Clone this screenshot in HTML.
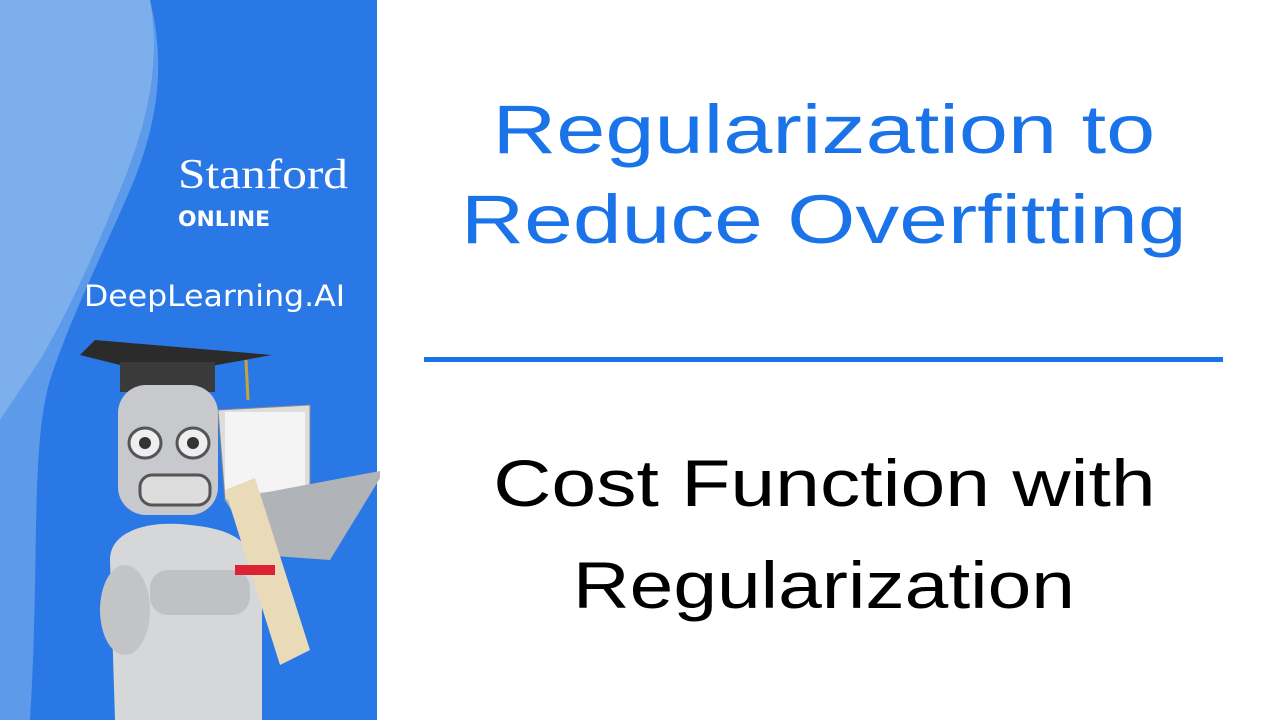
<!DOCTYPE html>
<html><head><meta charset="utf-8"><style>
html,body{margin:0;padding:0;background:#fff}
body{width:1280px;height:720px;position:relative;overflow:hidden;font-family:"Liberation Sans","DejaVu Sans",sans-serif}
.t{position:absolute;left:424px;width:800px;text-align:center;white-space:nowrap}
.t span{display:inline-block}
</style></head><body>
<svg width="380" height="720" style="position:absolute;left:0;top:0">
<rect x="0" y="0" width="377" height="720" fill="#2a78e6"/>
<path d="M0 0 L150 0 C165 60 160 120 130 190 C95 270 70 320 50 380 C30 450 40 560 30 720 L0 720 Z" fill="#5d9aea"/>
<path d="M0 0 L150 0 C160 60 150 110 128 170 C100 240 75 300 40 360 L0 420 Z" fill="#86b4ec" opacity="0.8"/>
<text x="178" y="188" fill="#fff" font-family="Liberation Serif,serif" font-size="42" textLength="170" lengthAdjust="spacingAndGlyphs">Stanford</text>
<text x="178" y="226" fill="#fff" font-family="DejaVu Sans,sans-serif" font-weight="bold" font-size="21" textLength="92" lengthAdjust="spacingAndGlyphs">ONLINE</text>
<text x="84" y="306" fill="#fff" font-family="DejaVu Sans,sans-serif" font-size="29" textLength="261" lengthAdjust="spacingAndGlyphs">DeepLearning.AI</text>
<polygon points="80,355 95,340 272,355 200,368 120,365" fill="#2b2b2b"/>
<rect x="120" y="362" width="95" height="30" fill="#3a3a3a"/>
<line x1="246" y1="360" x2="248" y2="400" stroke="#c9a23a" stroke-width="3"/>
<polygon points="218,410 310,405 310,500 225,500" fill="#ddd" stroke="#888"/>
<rect x="225" y="412" width="80" height="80" fill="#f4f4f4"/>
<polygon points="225,500 385,470 330,560 260,555" fill="#b0b3b8"/>
<rect x="118" y="385" width="100" height="130" rx="28" fill="#c7c9cc"/>
<ellipse cx="145" cy="443" rx="16" ry="15" fill="#eee" stroke="#555" stroke-width="3"/>
<ellipse cx="193" cy="443" rx="16" ry="15" fill="#eee" stroke="#555" stroke-width="3"/>
<circle cx="145" cy="443" r="6" fill="#333"/><circle cx="193" cy="443" r="6" fill="#333"/>
<rect x="140" y="475" width="70" height="30" rx="12" fill="#ddd" stroke="#555" stroke-width="3"/>
<path d="M110 560 C110 530 150 520 190 525 C240 530 260 545 262 600 L262 720 L115 720 Z" fill="#d5d7d9"/>
<ellipse cx="125" cy="610" rx="25" ry="45" fill="#c2c4c6"/>
<rect x="150" y="570" width="100" height="45" rx="18" fill="#bfc1c4"/>
<polygon points="225,490 255,478 310,650 280,665" fill="#eadbb8"/>
<rect x="235" y="565" width="40" height="10" fill="#d23"/>
</svg>
<div class="t" style="top:86px;font-size:69px;line-height:88px;color:#1a73e8"><span style="transform:scaleX(1.28)">Regularization to</span></div>
<div class="t" style="top:176px;font-size:69px;line-height:88px;color:#1a73e8"><span style="transform:scaleX(1.27)">Reduce Overfitting</span></div>
<div style="position:absolute;left:424px;top:357px;width:799px;height:5px;background:#1a73e8"></div>
<div class="t" style="top:440px;font-size:66px;line-height:86px;color:#000"><span style="transform:scaleX(1.22)">Cost Function with</span></div>
<div class="t" style="top:542px;font-size:66px;line-height:86px;color:#000"><span style="transform:scaleX(1.19)">Regularization</span></div>
</body></html>
